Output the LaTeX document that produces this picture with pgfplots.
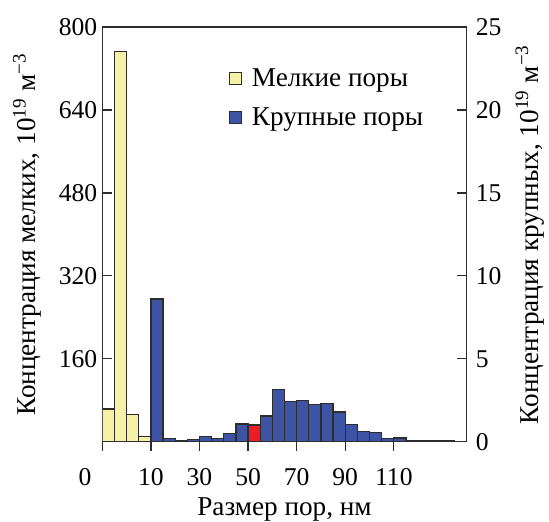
\documentclass[border=0pt]{standalone}
\usepackage{fontspec}
\setmainfont{Liberation Serif}
\usepackage{pgfplots}
\pgfplotsset{compat=1.18}
\definecolor{ysmall}{RGB}{245,241,166}
\definecolor{bbig}{RGB}{61,84,165}
\definecolor{rbig}{RGB}{236,28,36}
\definecolor{edge}{RGB}{45,45,45}
\pgfplotstableread{
x y
0.5 63
1.5 753
2.5 52
3.5 9.5
}\tabsmall
\pgfplotstableread{
x y
4.5 8.6
5.5 0.2
6.5 0.06
7.5 0.15
8.5 0.3
9.5 0.2
10.5 0.5
11.5 1.07
13.5 1.55
14.5 3.16
15.5 2.41
16.5 2.47
17.5 2.25
18.5 2.31
19.5 1.79
20.5 1.03
21.5 0.62
22.5 0.54
23.5 0.2
24.5 0.22
25.5 0.04
26.5 0.04
27.5 0.04
28.5 0.04
}\tabbig
\pgfplotstableread{
x y
12.5 1.0
}\tabred
\newcommand\tickfont{\rmfamily\fontsize{12.8}{14}\selectfont}
\newcommand\labfont{\rmfamily\fontsize{13.6}{15}\selectfont}
\begin{document}
\begin{tikzpicture}
\pgfplotsset{
  base/.style={scale only axis, width=182.2pt, height=207.35pt, xmin=0, xmax=30, ymin=0,
    axis line style={edge, line width=0.65pt},
    every tick/.style={edge, line width=0.65pt},
    major tick length=4.7pt,
    ybar, bar width=1, bar shift=0,
    /pgf/number format/assume math mode=true,
    tick label style={font=\tickfont},
    label style={font=\labfont, inner sep=0pt},
  }}
\begin{axis}[base, ymax=800,
  ytick={160,320,480,640,800}, ytick pos=left,
  xtick={0,4,8,12,16,20,24}, xtick pos=bottom,
  xticklabels={\makebox[0pt][r]{0\hspace{5.5pt}},10,30,50,70,90,110},
  xtick align=outside,
  xticklabel style={yshift=-5pt},
  yticklabel style={xshift=1pt},
  xlabel={Размер пор, нм},
  xlabel style={yshift=-2.5pt},
  ylabel={Концентрация мелких, 10\textsuperscript{19} м\textsuperscript{−3}},
  ylabel style={yshift=5pt},
  ]
\coordinate (O) at (rel axis cs:0,0);
\addplot[fill=ysmall, draw=edge, line width=0.65pt] table[x=x,y=y] {\tabsmall};
\end{axis}
\begin{axis}[base, ymax=25,
  axis x line=none, axis y line*=right,
  ytick={0,5,10,15,20,25},
  yticklabel style={xshift=1pt},
  ylabel={Концентрация крупных, 10\textsuperscript{19} м\textsuperscript{−3}},
  ylabel style={yshift=-3.5pt},
  legend style={at={(0.33,0.92)}, anchor=north west, draw=none, fill=none,
    row sep=5pt, font=\labfont},
  legend cell align=left,
  ]
\addplot[fill=bbig, draw=edge, line width=0.65pt, forget plot] table[x=x,y=y] {\tabbig};
\addplot[fill=rbig, draw=edge, line width=0.65pt, forget plot] table[x=x,y=y] {\tabred};
\addlegendimage{legend image code/.code={\draw[fill=ysmall,draw=edge,line width=0.5pt] (0pt,-3pt) rectangle (6pt,3pt);}}
\addlegendentry{\hspace{3pt}Мелкие поры}
\addlegendimage{legend image code/.code={\draw[fill=bbig,draw=edge,line width=0.5pt] (0pt,-3pt) rectangle (6pt,3pt);}}
\addlegendentry{\hspace{3pt}Крупные поры}
\end{axis}
\path ([shift={(-51.15pt,-38.65pt)}]O) rectangle ([shift={(223.35pt,220.85pt)}]O);
\end{tikzpicture}
\end{document}
